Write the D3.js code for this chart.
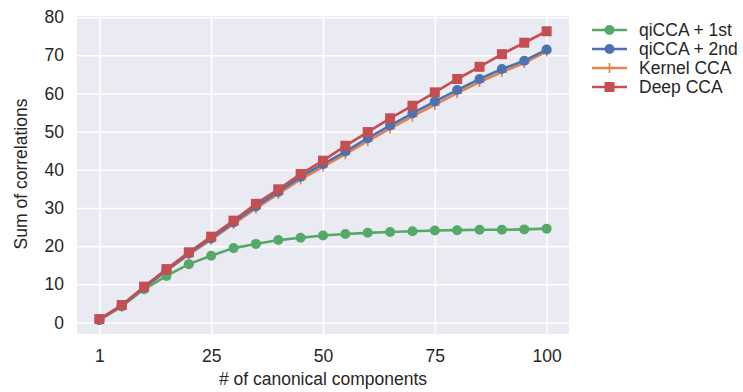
<!DOCTYPE html>
<html><head><meta charset="utf-8">
<script src="https://cdn.jsdelivr.net/npm/d3@7"></script>
<style>body{margin:0;background:#fff;} text{font-family:"Liberation Sans",Arial,sans-serif;}</style>
</head><body><svg id="c" width="743" height="392"></svg>
<script>
const components = [1,5,10,15,20,25,30,35,40,45,50,55,60,65,70,75,80,85,90,95,100];
const tickLabels = ["1","25","50","75","100"];
const yTicks = [0,10,20,30,40,50,60,70,80];
const qicca1 = [0.7,4.2,8.7,12.2,15.3,17.5,19.5,20.6,21.6,22.2,22.8,23.2,23.5,23.7,23.9,24.1,24.2,24.3,24.3,24.4,24.6];
const qicca2 = [0.7,4.4,9.1,13.7,18.1,22.0,26.2,30.4,34.2,38.2,41.5,44.8,48.3,51.6,54.8,57.9,60.9,63.8,66.4,68.6,71.5];
const kcca   = [0.7,4.3,9.0,13.5,17.8,21.7,25.8,29.9,33.7,37.5,40.8,44.1,47.5,50.8,54.0,57.0,60.1,63.0,65.6,68.0,71.0];
const dcca   = [0.9,4.6,9.4,14.0,18.4,22.5,26.7,31.1,34.9,38.9,42.4,46.3,49.9,53.5,56.8,60.3,63.8,67.0,70.3,73.3,76.3];
const seriesNames = ["qiCCA + 1st","qiCCA + 2nd","Kernel CCA","Deep CCA"];
const colors = ["#55A868","#4C72B0","#DD8452","#C44E52"];
const markers = ["circle","circle","plus","square"];
const seriesVals = [qicca1,qicca2,kcca,dcca];
const drawOrder = [0,2,1,3];
const FS = "17.5px";

const svg = d3.select("#c");
const L=77,R=569,T=16,B=334;
const x = d3.scaleLinear().domain([-1, components.length]).range([L,R]);
const y = d3.scaleLinear().domain([-3.0,80.3]).range([B,T]);
const tickIdx = tickLabels.map(t => Math.max(0, components.indexOf(+t)));

svg.append("rect").attr("x",L).attr("y",T).attr("width",R-L).attr("height",B-T).attr("fill","#EAEAF2");
svg.append("clipPath").attr("id","pc").append("rect").attr("x",L).attr("y",T).attr("width",R-L).attr("height",B-T);

const gx = svg.append("g").attr("transform",`translate(0,${B})`)
  .call(d3.axisBottom(x).tickValues(tickIdx).tickFormat((d,i)=>tickLabels[i]).tickSize(-(B-T)).tickPadding(16));
const gy = svg.append("g").attr("transform",`translate(${L},0)`)
  .call(d3.axisLeft(y).tickValues(yTicks).tickSize(-(R-L)).tickPadding(13));
[gx,gy].forEach(g=>{
  g.select(".domain").remove();
  g.selectAll(".tick line").attr("stroke","#fff").attr("stroke-width",1.5);
  g.selectAll(".tick text").attr("fill","#262626").style("font-size",FS);
});

const plot = svg.append("g").attr("clip-path","url(#pc)");
const line = d3.line().x((d,i)=>x(i)).y(d=>y(d));

function drawMarker(g, type, color, cx, cy){
  if(type==="circle") g.append("circle").attr("cx",cx).attr("cy",cy).attr("r",5).attr("fill",color);
  else if(type==="square") g.append("rect").attr("x",cx-5).attr("y",cy-5).attr("width",10).attr("height",10).attr("fill",color);
  else g.append("path").attr("d",`M${cx-5},${cy}H${cx+5}M${cx},${cy-5}V${cy+5}`).attr("stroke",color).attr("stroke-width",1.6);
}

drawOrder.forEach(k=>{
  const vals = seriesVals[k];
  const g = plot.append("g");
  g.append("path").datum(vals).attr("d",line).attr("fill","none").attr("stroke",colors[k]).attr("stroke-width",2.6);
  vals.forEach((v,i)=>drawMarker(g, markers[k], colors[k], x(i), y(v)));
});

const lg = svg.append("g");
seriesNames.forEach((n,k)=>{
  const yy = 30 + k*19;
  lg.append("line").attr("x1",592).attr("x2",627).attr("y1",yy).attr("y2",yy).attr("stroke",colors[k]).attr("stroke-width",2.6);
  drawMarker(lg, markers[k], colors[k], 609.5, yy);
  lg.append("text").attr("x",639).attr("y",yy).attr("dy","0.35em").attr("fill","#262626").style("font-size",FS).text(n);
});

svg.append("text").attr("x",(L+R)/2).attr("y",385).attr("text-anchor","middle").attr("fill","#262626").style("font-size",FS).text("# of canonical components");
svg.append("text").attr("transform",`translate(27,174) rotate(-90)`).attr("text-anchor","middle").attr("fill","#262626").style("font-size",FS).text("Sum of correlations");
</script></body></html>
